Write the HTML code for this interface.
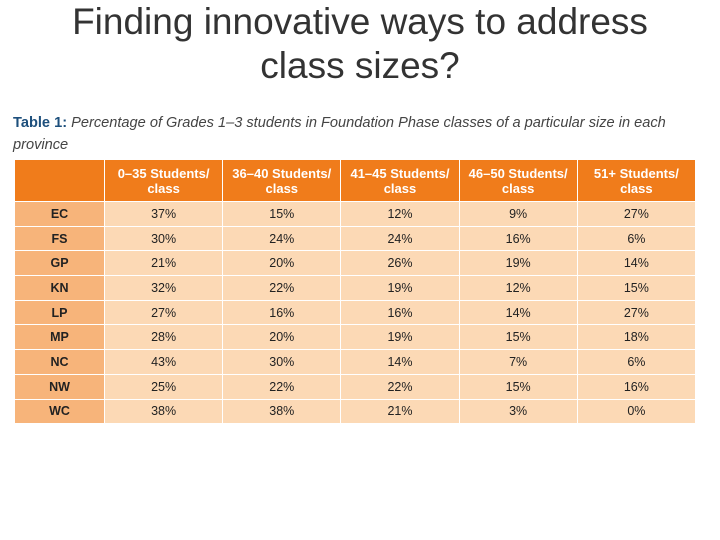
<!DOCTYPE html>
<html><head><meta charset="utf-8"><style>
body{margin:0;width:720px;height:540px;background:#fff;position:relative;overflow:hidden;font-family:"Liberation Sans",sans-serif}
#title{position:absolute;left:0;top:0px;width:720px;text-align:center;font-size:37px;line-height:44px;color:#333}
#cap{position:absolute;left:13px;top:112px;font-size:14.6px;line-height:22px;color:#444;font-style:italic}
#cap b{color:#1d4f7c;font-style:normal}
table{position:absolute;left:14px;top:159px;border-collapse:collapse;width:682px;table-layout:fixed}
td,th{border:1.5px solid #fff;text-align:center;font-size:12.5px;color:#222;padding:0}
th{background:#f07c1b;color:#fff;height:41px;font-size:13px;line-height:15px;font-weight:bold}
td{height:23.7px;background:#fcd9b5}
td.p{background:#f7b47a;font-weight:bold}
</style></head><body>
<div id="title">Finding innovative ways to address<br>class sizes?</div>
<div id="cap"><b>Table 1:</b> Percentage of Grades 1–3 students in Foundation Phase classes of a particular size in each<br>province</div>
<table>
<colgroup><col style="width:90px"><col><col><col><col><col></colgroup>
<thead><tr><th></th><th>0–35 Students/<br>class</th><th>36–40 Students/<br>class</th><th>41–45 Students/<br>class</th><th>46–50 Students/<br>class</th><th>51+ Students/<br>class</th></tr></thead>
<tbody id="tb"></tbody></table>
<script>
const provinces=["EC","FS","GP","KN","LP","MP","NC","NW","WC"];
const c0=[37,30,21,32,27,28,43,25,38];
const c1=[15,24,20,22,16,20,30,22,38];
const c2=[12,24,26,19,16,19,14,22,21];
const c3=[9,16,19,12,14,15,7,15,3];
const c4=[27,6,14,15,27,18,6,16,0];
const tb=document.getElementById('tb');
provinces.forEach((p,i)=>{
 const tr=document.createElement('tr');
 
 
 let h='<td class="p">'+p+'</td>';
 [c0,c1,c2,c3,c4].forEach(c=>{h+='<td>'+c[i]+'%</td>';});
 tr.innerHTML=h;
 tb.appendChild(tr);
});
</script>
</body></html>
